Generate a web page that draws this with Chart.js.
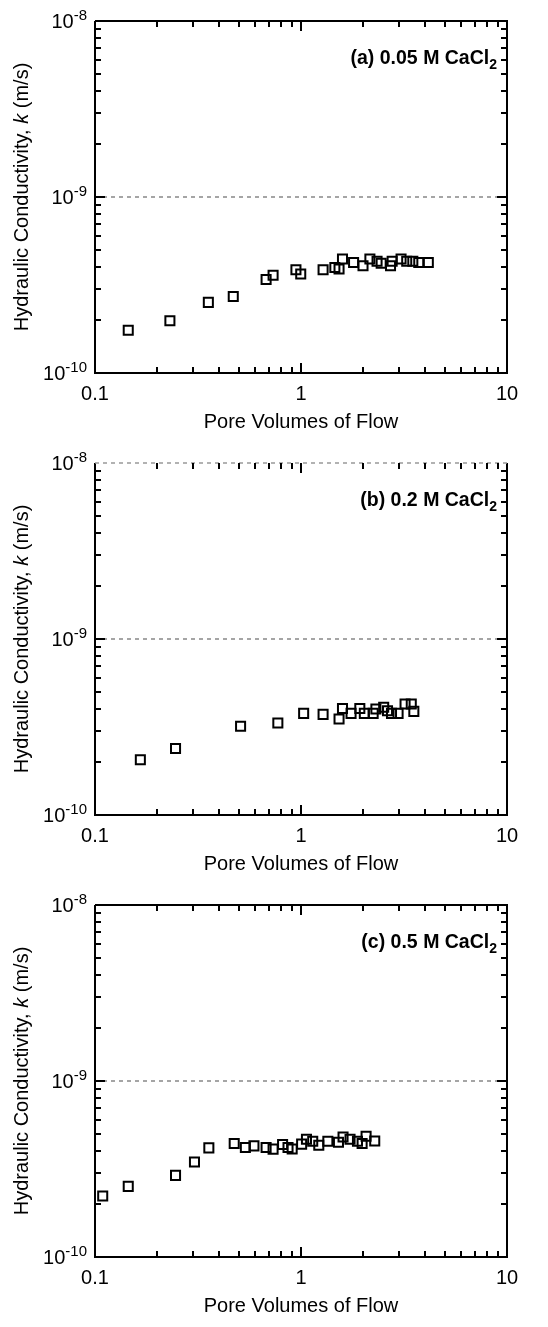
<!DOCTYPE html>
<html lang="en">
<head>
    <meta charset="UTF-8">
    <script src="https://cdn.jsdelivr.net/npm/chart.js"></script>
    <title>Hydraulic conductivity vs pore volumes</title>
    <style>
        body { margin: 0; background: #fff; }
        canvas { display: block; }
    </style>
</head>
<body>

<canvas id="panelA" width="548" height="442"></canvas>
<canvas id="panelB" width="548" height="442"></canvas>
<canvas id="panelC" width="548" height="442"></canvas>

<script>

    // pore volumes of flow and k (in units of 1e-10 m/s) for each CaCl2 concentration
    const poreA = [0.145, 0.231, 0.355, 0.469, 0.677, 0.732, 0.945, 0.997, 1.28, 1.46, 1.53, 1.59,
        1.80, 2.00, 2.16, 2.34, 2.45, 2.72, 2.77, 3.06, 3.26, 3.49, 3.73, 4.15];
    const kA = [1.75, 1.98, 2.52, 2.72, 3.40, 3.59, 3.86, 3.65, 3.86, 3.98, 3.90, 4.44,
        4.25, 4.07, 4.44, 4.31, 4.20, 4.07, 4.31, 4.44, 4.31, 4.31, 4.25, 4.25];

    const poreB = [0.166, 0.246, 0.509, 0.772, 1.03, 1.28, 1.53, 1.59, 1.75, 1.93, 2.03, 2.24,
        2.31, 2.52, 2.63, 2.75, 2.96, 3.20, 3.43, 3.53];
    const kB = [2.06, 2.39, 3.19, 3.33, 3.78, 3.73, 3.51, 4.03, 3.78, 4.03, 3.78, 3.78,
        4.00, 4.09, 3.91, 3.78, 3.78, 4.27, 4.27, 3.88];

    const poreC = [0.109, 0.145, 0.246, 0.304, 0.357, 0.474, 0.537, 0.591, 0.677, 0.732, 0.814, 0.865,
        0.906, 1.007, 1.063, 1.14, 1.22, 1.35, 1.52, 1.60, 1.73, 1.88, 1.98, 2.07, 2.28];
    const kC = [2.22, 2.52, 2.91, 3.47, 4.17, 4.42, 4.19, 4.28, 4.19, 4.10, 4.36, 4.19,
        4.11, 4.38, 4.67, 4.55, 4.32, 4.55, 4.49, 4.81, 4.67, 4.55, 4.42, 4.86, 4.56];

    const xLabels = [0.1, 1, 10];
    const yExponents = [-10, -9, -8];
    const refLine = 1e-9;

    const FONT = "'Liberation Sans', Arial, sans-serif";

    function logTicks(lo, hi) {
        const out = [];
        for (let e = Math.round(Math.log10(lo)); e < Math.round(Math.log10(hi)); e++) {
            for (let m = 1; m <= 9; m++) out.push({v: m * Math.pow(10, e), major: m === 1});
        }
        out.push({v: hi, major: true});
        return out;
    }

    const framePlugin = {
        id: 'frame',
        afterDraw: (chart, args, opts) => {
            const {ctx, chartArea: a, scales: {x, y}} = chart;
            ctx.save();

            // box
            ctx.strokeStyle = '#000';
            ctx.lineWidth = 2;
            ctx.beginPath();
            ctx.moveTo(a.left, a.top);
            ctx.lineTo(a.left, a.bottom);
            ctx.lineTo(a.right, a.bottom);
            ctx.lineTo(a.right, a.top);
            if (!opts.dashedTop) ctx.lineTo(a.left, a.top);
            ctx.stroke();
            if (opts.dashedTop) {
                ctx.save();
                ctx.strokeStyle = '#999';
                ctx.lineWidth = 1.5;
                ctx.setLineDash([4, 4]);
                ctx.beginPath();
                ctx.moveTo(a.left, a.top);
                ctx.lineTo(a.right, a.top);
                ctx.stroke();
                ctx.restore();
            }

            // inward ticks on all four sides
            ctx.beginPath();
            logTicks(0.1, 10).forEach(t => {
                if (t.v <= 0.1 || t.v >= 10) return;
                const px = Math.round(x.getPixelForValue(t.v));
                const len = t.major ? 10 : 6;
                ctx.moveTo(px, a.bottom); ctx.lineTo(px, a.bottom - len);
                ctx.moveTo(px, a.top); ctx.lineTo(px, a.top + len);
            });
            logTicks(1e-10, 1e-8).forEach(t => {
                if (t.v <= 1e-10 * 1.001 || t.v >= 1e-8 * 0.999) return;
                const py = Math.round(y.getPixelForValue(t.v));
                const len = t.major ? 10 : 6;
                ctx.moveTo(a.left, py); ctx.lineTo(a.left + len, py);
                ctx.moveTo(a.right, py); ctx.lineTo(a.right - len, py);
            });
            ctx.stroke();

            ctx.fillStyle = '#000';

            // x tick labels
            ctx.font = '20px ' + FONT;
            ctx.textAlign = 'center';
            ctx.textBaseline = 'alphabetic';
            xLabels.forEach(v => {
                ctx.fillText(String(v), x.getPixelForValue(v), a.bottom + 27);
            });

            // y tick labels, 10 with superscript exponent
            ctx.textAlign = 'left';
            yExponents.forEach(e => {
                const py = y.getPixelForValue(Math.pow(10, e));
                ctx.font = '15px ' + FONT;
                const sup = String(e);
                const sw = ctx.measureText(sup).width;
                ctx.font = '20px ' + FONT;
                const bw = ctx.measureText('10').width;
                const right = a.left - 8;
                ctx.fillText('10', right - sw - bw, py + 7);
                ctx.font = '15px ' + FONT;
                ctx.fillText(sup, right - sw, py - 1.5);
            });

            // x axis title
            ctx.font = '20px ' + FONT;
            ctx.textAlign = 'center';
            ctx.fillText('Pore Volumes of Flow', (a.left + a.right) / 2, a.bottom + 55);

            // y axis title with italic k
            ctx.save();
            ctx.translate(22, (a.top + a.bottom) / 2);
            ctx.rotate(-Math.PI / 2);
            const parts = [
                ['Hydraulic Conductivity, ', '20px ' + FONT],
                ['k', 'italic 20px ' + FONT],
                [' (m/s)', '20px ' + FONT]
            ];
            let total = 0;
            parts.forEach(p => { ctx.font = p[1]; total += ctx.measureText(p[0]).width; });
            let cx = -total / 2;
            ctx.textAlign = 'left';
            ctx.textBaseline = 'middle';
            parts.forEach(p => {
                ctx.font = p[1];
                ctx.fillText(p[0], cx, 0);
                cx += ctx.measureText(p[0]).width;
            });
            ctx.restore();

            // panel label, CaCl with subscript 2
            ctx.textBaseline = 'alphabetic';
            ctx.textAlign = 'left';
            ctx.font = 'bold 14px ' + FONT;
            const subW = ctx.measureText('2').width;
            ctx.font = 'bold 19.5px ' + FONT;
            const mainW = ctx.measureText(opts.label).width;
            const endX = 497;
            ctx.fillText(opts.label, endX - subW - mainW, a.top + 43);
            ctx.font = 'bold 14px ' + FONT;
            ctx.fillText('2', endX - subW, a.top + 48);

            ctx.restore();
        }
    };

    function makePanel(id, pores, ks, label, dashedTop) {
        const points = pores.map((p, i) => ({x: p, y: ks[i] * 1e-10}));
        return new Chart(document.getElementById(id), {
            type: 'scatter',
            data: {
                datasets: [{
                    data: points,
                    pointStyle: 'rect',
                    pointRadius: 6.4,
                    borderWidth: 2,
                    borderColor: '#000',
                    backgroundColor: 'rgba(0,0,0,0)'
                }, {
                    type: 'line',
                    data: [{x: 0.1, y: refLine}, {x: 10, y: refLine}],
                    borderColor: '#888',
                    borderWidth: 1.5,
                    borderDash: [4, 4],
                    pointRadius: 0,
                    fill: false
                }]
            },
            options: {
                responsive: false,
                animation: false,
                devicePixelRatio: 1,
                layout: {padding: {top: 21, right: 41, left: 0, bottom: 0}},
                plugins: {
                    legend: {display: false},
                    tooltip: {enabled: false},
                    frame: {label: label, dashedTop: dashedTop}
                },
                scales: {
                    x: {
                        type: 'logarithmic',
                        min: 0.1,
                        max: 10,
                        grid: {display: false},
                        border: {display: false},
                        ticks: {display: false},
                        afterFit: s => { s.height = 69; }
                    },
                    y: {
                        type: 'logarithmic',
                        min: 1e-10,
                        max: 1e-8,
                        grid: {display: false},
                        border: {display: false},
                        ticks: {display: false},
                        afterFit: s => { s.width = 95; }
                    }
                }
            },
            plugins: [framePlugin]
        });
    }

    makePanel('panelA', poreA, kA, '(a) 0.05 M CaCl', false);
    makePanel('panelB', poreB, kB, '(b) 0.2 M CaCl', true);
    makePanel('panelC', poreC, kC, '(c) 0.5 M CaCl', false);

</script>

</body>
</html>
